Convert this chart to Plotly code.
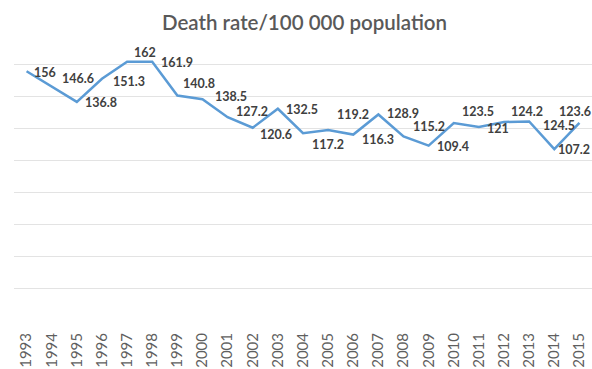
import plotly.graph_objects as go

years = [str(y) for y in range(1993, 2016)]
death_rate = [156, 146.6, 136.8, 151.3, 162, 161.9, 140.8, 138.5, 127.2, 120.6,
              132.5, 117.2, 119.2, 116.3, 128.9, 115.2, 109.4, 123.5, 121, 124.2,
              124.5, 107.2, 123.6]
value_labels = ["156", "146.6", "136.8", "151.3", "162", "161.9", "140.8", "138.5",
                "127.2", "120.6", "132.5", "117.2", "119.2", "116.3", "128.9", "115.2",
                "109.4", "123.5", "121", "124.2", "124.5", "107.2", "123.6"]
title_text = "Death rate/100 000 population"

# label offsets in pixels (dx right, dy down) relative to each point
label_dx = [18, 26, 24, 27, 18, 25, 22, 29, 24, 23, 24, 25, 25, 25, 24.5, 25.5, 24, 24,
            19.5, 22.5, 30, 20, -4.5]
label_dy = [1, -8, 1, 3, -9, 1, -12, -2.5, -5.5, 7, 1, 11, -15, 5, -1, -10, 1, -11.5,
            1, -10, 4.5, 0, -11]

fig = go.Figure()
fig.add_trace(go.Scatter(
    x=list(range(len(years))), y=death_rate, mode="lines",
    line=dict(color="#5B9BD5", width=2.5), hoverinfo="skip", showlegend=False,
))

for i, (v, t) in enumerate(zip(death_rate, value_labels)):
    fig.add_annotation(
        x=i, y=v, text="<b>" + t + "</b>", showarrow=False,
        xshift=label_dx[i], yshift=-label_dy[i],
        font=dict(family="Lato", size=12.5, color="#404040"),
        xanchor="center", yanchor="middle",
    )

fig.update_layout(
    width=592, height=369,
    margin=dict(l=14, r=0, t=33, b=49),
    paper_bgcolor="white", plot_bgcolor="white",
    title=dict(text=title_text, x=304.5 / 592, xanchor="center",
               y=1 - 23 / 369, yanchor="middle", xref="container", yref="container",
               font=dict(family="Lato", size=20.5, color="#595959", weight=600)),
    xaxis=dict(
        tickmode="array", tickvals=list(range(len(years))), ticktext=years,
        range=[-0.5, 22.5], tickangle=-90, showgrid=False, zeroline=False,
        showline=False, ticks="", ticklabelstandoff=9,
        tickfont=dict(family="Lato", size=15, color="#5f5f5f"),
    ),
    yaxis=dict(
        range=[0, 180], dtick=20, tick0=0, showticklabels=False,
        showgrid=True, gridcolor="#E3E3E3", gridwidth=1, zeroline=False,
        showline=False,
    ),
)

fig.write_html("out.html")
